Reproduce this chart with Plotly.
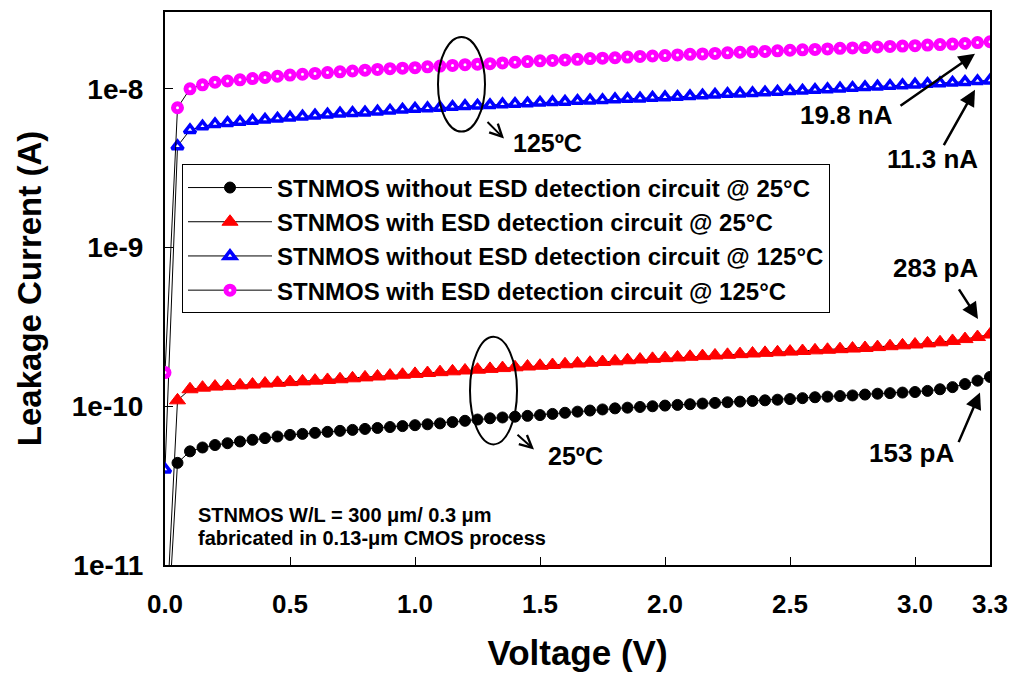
import plotly.graph_objects as go

# Drain voltage sweep (V)
voltage = [0.00, 0.05, 0.10, 0.15, 0.20, 0.25, 0.30, 0.35, 0.40, 0.45,
           0.50, 0.55, 0.60, 0.65, 0.70, 0.75, 0.80, 0.85, 0.90, 0.95,
           1.00, 1.05, 1.10, 1.15, 1.20, 1.25, 1.30, 1.35, 1.40, 1.45,
           1.50, 1.55, 1.60, 1.65, 1.70, 1.75, 1.80, 1.85, 1.90, 1.95,
           2.00, 2.05, 2.10, 2.15, 2.20, 2.25, 2.30, 2.35, 2.40, 2.45,
           2.50, 2.55, 2.60, 2.65, 2.70, 2.75, 2.80, 2.85, 2.90, 2.95,
           3.00, 3.05, 3.10, 3.15, 3.20, 3.25, 3.30]

# Leakage at 25 C, without ESD detection circuit (pA)
no_esd_25c_pA = [2, 44, 52, 55, 57, 58.5, 60, 61.5, 63, 64.5,
                 66, 67, 68, 69, 70, 71, 72, 73, 74, 75,
                 76, 77, 78, 79.5, 81, 82.5, 84, 85, 86, 87,
                 88, 89.5, 91, 92.5, 94, 95.5, 97, 98, 99, 100,
                 101, 102, 103, 104, 105, 106, 107, 108, 109, 110,
                 111, 112.5, 114, 115, 116, 117, 118.5, 120, 121, 122,
                 123, 125, 128, 132, 138, 145, 153]

# Leakage at 25 C, with ESD detection circuit (pA)
esd_25c_pA = [3, 109, 128, 131, 133, 134, 135.5, 137, 139, 140.5,
              142, 143.5, 145, 146.5, 148, 150, 152, 154, 156, 158,
              160, 162, 164, 166, 168, 170, 172, 174, 176, 178,
              180, 182, 184, 186, 188, 190, 192, 195, 197, 199,
              201, 203, 205, 207, 209, 211, 213, 215, 217, 219,
              221, 223, 225, 227, 229, 231, 233, 236, 239, 242,
              245, 249, 253, 258, 265, 273, 283]

# Leakage at 125 C, without ESD detection circuit (nA)
no_esd_125c_nA = [0.040, 4.35, 5.5, 5.8, 6.0, 6.1, 6.2, 6.3, 6.4, 6.5,
                  6.6, 6.7, 6.8, 6.9, 7.0, 7.05, 7.1, 7.2, 7.3, 7.4,
                  7.5, 7.55, 7.6, 7.7, 7.8, 7.85, 7.9, 8.0, 8.05, 8.1,
                  8.2, 8.25, 8.3, 8.4, 8.45, 8.5, 8.6, 8.65, 8.7, 8.8,
                  8.85, 8.9, 9.0, 9.1, 9.2, 9.3, 9.35, 9.4, 9.5, 9.6,
                  9.7, 9.75, 9.85, 9.95, 10.05, 10.15, 10.25, 10.35, 10.45, 10.55,
                  10.65, 10.75, 10.85, 10.95, 11.05, 11.2, 11.3]

# Leakage at 125 C, with ESD detection circuit (nA)
esd_125c_nA = [0.163, 7.6, 10.0, 10.6, 11.0, 11.2, 11.4, 11.6, 11.8, 12.0,
               12.2, 12.35, 12.5, 12.65, 12.8, 12.95, 13.1, 13.25, 13.4, 13.5,
               13.6, 13.75, 13.9, 14.05, 14.2, 14.3, 14.4, 14.55, 14.7, 14.85,
               15.0, 15.1, 15.2, 15.35, 15.5, 15.6, 15.7, 15.85, 16.0, 16.1,
               16.2, 16.35, 16.5, 16.6, 16.7, 16.85, 17.0, 17.1, 17.2, 17.35,
               17.5, 17.6, 17.7, 17.85, 18.0, 18.1, 18.2, 18.35, 18.5, 18.6,
               18.7, 18.85, 19.0, 19.15, 19.3, 19.55, 19.8]

x_tickvals = [0.0, 0.5, 1.0, 1.5, 2.0, 2.5, 3.0, 3.3]
x_ticktext = ["0.0", "0.5", "1.0", "1.5", "2.0", "2.5", "3.0", "3.3"]
y_tickvals = [1e-11, 1e-10, 1e-9, 1e-8]
y_ticktext = ["1e-11", "1e-10", "1e-9", "1e-8"]

FONT = "Liberation Sans, Arial, sans-serif"

fig = go.Figure()

series = [
    ("STNMOS without ESD detection circuit @ 25°C", [v * 1e-12 for v in no_esd_25c_pA],
     dict(symbol="circle", size=11, color="black", line=dict(color="black", width=1))),
    ("STNMOS with ESD detection circuit @ 25°C", [v * 1e-12 for v in esd_25c_pA],
     dict(symbol="triangle-up", size=14, color="red", line=dict(color="red", width=1))),
    ("STNMOS without ESD detection circuit @ 125°C", [v * 1e-9 for v in no_esd_125c_nA],
     dict(symbol="triangle-up", size=10, color="white", line=dict(color="blue", width=3.5))),
    ("STNMOS with ESD detection circuit @ 125°C", [v * 1e-9 for v in esd_125c_nA],
     dict(symbol="circle", size=8, color="white", line=dict(color="magenta", width=5))),
]
for name, current, marker in series:
    fig.add_trace(go.Scatter(
        x=voltage, y=current, name=name, mode="lines+markers",
        line=dict(color="black", width=1), marker=marker,
    ))

L, R, T, B = 165, 29, 10, 112
W, H = 1019, 677
PW, PH = W - L - R, H - T - B


def px(xp):
    return (xp - L) / PW


def py(yp):
    return (H - B - yp) / PH


# Ellipses grouping the two temperature sets
for x0, x1, y0, y1 in [(438, 485, 35, 130), (470, 517, 336, 444)]:
    fig.add_shape(type="circle", xref="paper", yref="paper",
                  x0=px(x0), x1=px(x1), y0=py(y1), y1=py(y0),
                  line=dict(color="black", width=2))

ann = []
bold = dict(color="black", weight="bold")

# Temperature tags with small arrows
for (tx, ty, hx, hy), label, (lx, ly) in [
        ((486, 119, 504, 137), "125ºC", (511, 141)),
        ((516, 433, 534, 449), "25ºC", (546, 456))]:
    ann.append(dict(xref="paper", yref="paper", x=px(hx), y=py(hy),
                    ax=tx - hx, ay=ty - hy, text="", showarrow=True,
                    arrowhead=5, arrowsize=1.2, arrowwidth=2, arrowcolor="black"))
    ann.append(dict(xref="paper", yref="paper", x=px(lx), y=py(ly), text=label,
                    showarrow=False, xanchor="left", yanchor="middle",
                    font=dict(size=25, family=FONT, **bold)))

# End-point value labels with arrows
end_labels = [
    (f"{esd_125c_nA[-1]} nA", (846, 113), (899, 105, 975, 52)),
    (f"{no_esd_125c_nA[-1]} nA", (932, 158), (943, 145, 975, 88)),
    (f"{esd_25c_pA[-1]} pA", (935, 267), (958, 287, 978, 318)),
    (f"{no_esd_25c_pA[-1]} pA", (911, 453), (958, 443, 980, 392)),
]
for text, (lx, ly), (tx, ty, hx, hy) in end_labels:
    ann.append(dict(xref="paper", yref="paper", x=px(lx), y=py(ly), text=text,
                    showarrow=False, xanchor="center", yanchor="middle",
                    font=dict(size=26, family=FONT, **bold)))
    ann.append(dict(xref="paper", yref="paper", x=px(hx), y=py(hy),
                    ax=tx - hx, ay=ty - hy, text="", showarrow=True,
                    arrowhead=2, arrowsize=1.3, arrowwidth=2.5, arrowcolor="black"))

# Device description
ann.append(dict(xref="paper", yref="paper", x=px(196), y=py(515),
                text="STNMOS W/L = 300 μm/ 0.3 μm", showarrow=False,
                xanchor="left", yanchor="middle",
                font=dict(size=20, family=FONT, **bold)))
ann.append(dict(xref="paper", yref="paper", x=px(196), y=py(538),
                text="fabricated in 0.13-μm CMOS process", showarrow=False,
                xanchor="left", yanchor="middle",
                font=dict(size=20, family=FONT, **bold)))

fig.update_layout(
    width=W, height=H,
    margin=dict(l=L, r=R, t=T, b=B),
    paper_bgcolor="white", plot_bgcolor="white",
    font=dict(family=FONT, color="black"),
    annotations=ann,
    showlegend=True,
    legend=dict(
        x=px(182), y=py(163), xanchor="left", yanchor="top",
        bgcolor="white", bordercolor="black", borderwidth=1,
        font=dict(size=24, family=FONT, **bold), itemwidth=84, tracegroupgap=0,
    ),
    xaxis=dict(
        range=[0, 3.3], tickvals=x_tickvals, ticktext=x_ticktext,
        ticks="inside", ticklen=8, tickwidth=1, tickcolor="black",
        showline=True, linecolor="black", linewidth=2, mirror=True,
        showgrid=False, zeroline=False, ticklabelstandoff=15,
        tickfont=dict(size=26, family=FONT, **bold),
        title=dict(text="Voltage (V)", font=dict(size=35, family=FONT, **bold), standoff=22),
    ),
    yaxis=dict(
        type="log", range=[-11, -7.516], tickvals=y_tickvals, ticktext=y_ticktext,
        ticks="inside", ticklen=8, tickwidth=1, tickcolor="black",
        showline=True, linecolor="black", linewidth=2, mirror=True,
        showgrid=False, zeroline=False, ticklabelstandoff=14,
        tickfont=dict(size=28, family=FONT, **bold),
        title=dict(text="Leakage Current (A)", font=dict(size=33, family=FONT, **bold), standoff=20),
    ),
)

fig.write_html("out.html")
